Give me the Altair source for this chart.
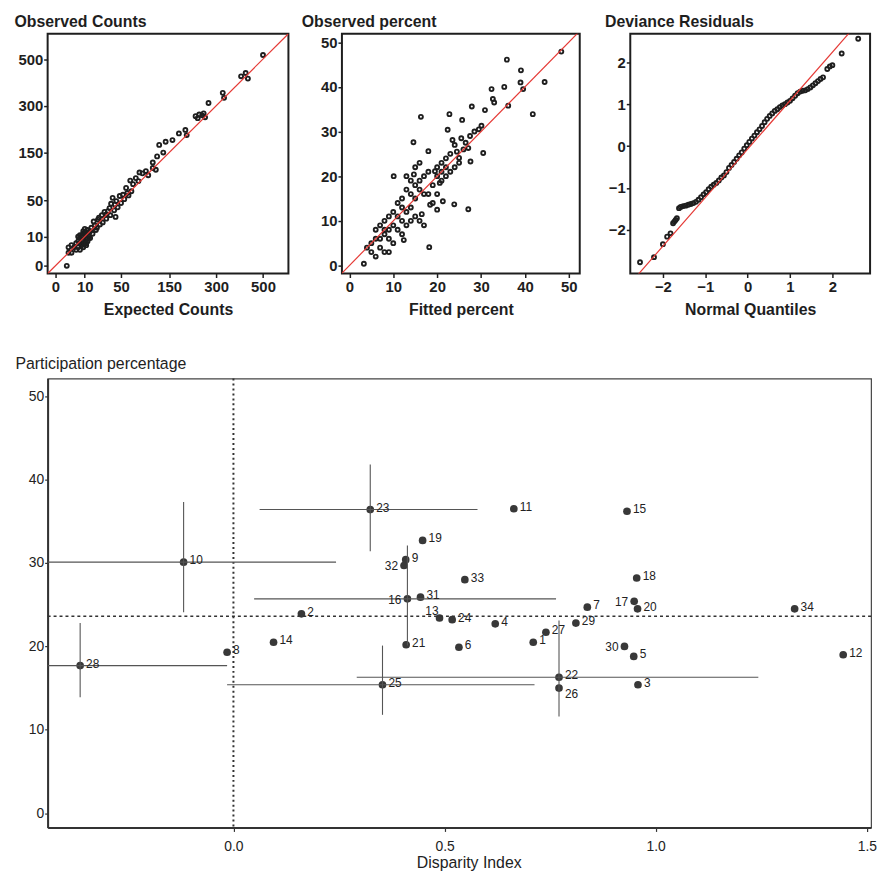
import altair as alt
import pandas as pd

FONT = "Liberation Sans"
INK = "#1e1e1e"
RED = "#e53935"

# ---------------- panel 1: observed vs expected counts (sqrt axes) ----------------
exp_counts = [500, 400, 420, 430, 325, 330, 272, 228, 240, 250,
              255, 235, 260, 196, 177, 200, 141, 159, 125, 135,
              120, 110, 88, 95, 110, 117, 82, 75, 70, 65,
              58, 53, 67, 60, 48, 41, 34, 30, 38, 43,
              42, 45, 36, 32, 28, 25, 20, 23, 14, 11,
              17, 18, 21, 15, 12, 13, 10, 9, 8, 7,
              8, 11, 9, 10, 12, 7, 6, 5, 6, 7,
              8, 9, 10, 11, 13, 14, 12, 6, 5, 4,
              3, 3, 2, 1.5, 2, 16, 19, 22, 26, 30,
              35, 40, 50, 55, 62, 80, 100, 9, 7, 11]
obs_counts = [520, 420, 435, 410, 350, 330, 310, 262, 268, 265,
              272, 255, 258, 216, 205, 200, 180, 185, 171, 150,
              140, 125, 100, 105, 112, 108, 102, 90, 78, 85,
              71, 59, 65, 62, 57, 44, 39, 31, 54, 49,
              28, 40, 45, 35, 34, 30, 17, 20, 14, 12,
              23, 19, 25, 17, 15, 10, 12, 8, 10, 6,
              5, 8, 12, 16, 9, 9, 7, 6, 4, 3,
              7, 4, 6, 5, 13, 9, 7, 10, 3, 4,
              2, 5, 2, 0, 4, 12, 15, 27, 22, 26,
              30, 36, 46, 52, 58, 84, 96, 14, 11, 6]
count_ticks = [0, 10, 50, 150, 300, 500]
count_domain = [-0.7, 630]
count_line = [-0.7, 630]

# ---------------- panel 2: observed vs fitted percent ----------------
fitted_pct = [48.3, 35.9, 39.1, 39.0, 39.6, 44.5, 35.3, 32.4, 41.8, 36.2,
              32.7, 33.0, 30.9, 27.9, 25.7, 22.8, 16.3, 22.4, 30.1, 29.5,
              28.5, 30.5, 27.1, 14.6, 18.0, 27.6, 25.0, 23.5, 24.0, 25.5,
              26.5, 26.0, 24.5, 23.0, 22.0, 21.0, 20.0, 19.5, 20.6, 21.3,
              23.9, 27.1, 18.4, 16.5, 12.4, 18.2, 3.3, 10.1, 14.7, 13.0,
              14.0, 15.0, 16.0, 17.0, 18.0, 16.0, 17.0, 19.0, 20.0, 21.0,
              22.0, 15.0, 12.0, 13.0, 14.0, 11.0, 10.0, 11.0, 12.0, 13.0,
              14.0, 15.0, 16.0, 17.0, 12.0, 9.0, 8.0, 9.0, 8.0, 7.0,
              6.0, 10.0, 11.0, 12.0, 9.0, 8.0, 7.0, 6.0, 5.0, 5.0,
              4.0, 7.0, 8.0, 10.0, 6.0, 9.0, 18.0, 19.0, 20.0, 22.0,
              23.0, 24.0, 25.0, 21.0, 20.0, 16.0, 15.0, 14.0, 13.0, 27.5]
observed_pct = [47.9, 46.1, 43.7, 41.0, 39.5, 41.1, 40.0, 39.5, 33.9, 35.8,
                37.3, 36.5, 34.8, 35.6, 32.6, 33.9, 33.3, 30.4, 31.3, 30.5,
                30.0, 25.2, 26.3, 27.6, 25.6, 23.3, 24.1, 28.1, 27.0, 28.5,
                27.5, 26.0, 25.5, 25.0, 24.0, 23.0, 22.0, 21.1, 18.5, 14.4,
                13.7, 12.6, 13.6, 11.5, 5.7, 4.1, 0.4, 20.0, 20.4, 17.0,
                16.0, 18.0, 19.0, 20.0, 21.0, 17.0, 16.0, 18.0, 20.0, 21.0,
                20.0, 15.0, 13.0, 12.0, 13.0, 14.0, 12.0, 11.0, 10.0, 9.0,
                10.0, 11.0, 10.0, 9.0, 15.0, 11.0, 10.0, 8.0, 7.0, 9.0,
                8.0, 9.0, 8.0, 7.0, 6.0, 8.0, 4.0, 6.0, 5.0, 3.0,
                4.0, 6.0, 3.0, 5.0, 2.0, 3.0, 16.0, 14.0, 16.0, 22.0,
                21.0, 22.0, 23.0, 19.0, 12.5, 23.0, 22.0, 19.0, 20.0, 29.0]
pct_ticks = [0, 10, 20, 30, 40, 50]
pct_x_domain = [-1.7, 52.5]
pct_y_domain = [-1.8, 51.9]
pct_line = [-1.8, 53]

# ---------------- panel 3: deviance residuals vs normal quantiles ----------------
normal_q = [-2.54, -2.21, -2.00, -1.90, -1.82, -1.76, -1.73, -1.70, -1.67, -1.62,
            -1.58, -1.52, -1.46, -1.40, -1.34, -1.28, -1.22, -1.16, -1.10, -1.04,
            -0.98, -0.92, -0.86, -0.80, -0.74, -0.68, -0.62, -0.56, -0.50, -0.44,
            -0.38, -0.32, -0.26, -0.20, -0.14, -0.08, -0.02, 0.04, 0.10, 0.16,
            0.22, 0.28, 0.34, 0.40, 0.46, 0.52, 0.58, 0.64, 0.70, 0.76,
            0.82, 0.88, 0.94, 1.00, 1.06, 1.12, 1.18, 1.24, 1.30, 1.36,
            1.42, 1.48, 1.54, 1.60, 1.66, 1.72, 1.78, 1.88, 1.94, 2.00,
            2.22, 2.61]
dev_resid = [-2.77, -2.65, -2.34, -2.16, -2.08, -1.84, -1.80, -1.76, -1.72, -1.48,
             -1.45, -1.43, -1.42, -1.40, -1.38, -1.36, -1.33, -1.28, -1.22, -1.15,
             -1.10, -1.03, -0.97, -0.92, -0.88, -0.82, -0.75, -0.70, -0.62, -0.52,
             -0.45, -0.38, -0.30, -0.22, -0.15, -0.06, 0.02, 0.10, 0.18, 0.25,
             0.33, 0.40, 0.48, 0.57, 0.65, 0.72, 0.78, 0.84, 0.88, 0.93,
             0.97, 1.00, 1.04, 1.08, 1.14, 1.20, 1.26, 1.30, 1.32, 1.33,
             1.36, 1.40, 1.45, 1.50, 1.55, 1.60, 1.64, 1.84, 1.90, 1.93,
             2.21, 2.56]
qq_ticks = [-2, -1, 0, 1, 2]
qq_x_domain = [-2.77, 2.89]
qq_y_domain = [-3.04, 2.68]
qq_line_x = [-2.6, 2.45]
qq_line_y = [-3.08, 2.76]

# ---------------- bottom panel: participation vs disparity ----------------
region = list(range(1, 35))
disparity = [0.710, 0.161, 0.958, 0.620, 0.948, 0.534, 0.838, -0.015, 0.408, -0.118,
             0.664, 1.444, 0.488, 0.095, 0.932, 0.412, 0.949, 0.955, 0.448, 0.957,
             0.409, 0.771, 0.324, 0.518, 0.353, 0.771, 0.740, -0.363, 0.811, 0.926,
             0.443, 0.404, 0.548, 1.329]
participation = [20.5, 23.9, 15.4, 22.7, 18.8, 19.9, 24.7, 19.3, 30.4, 30.1,
                 36.5, 19.0, 23.4, 20.5, 36.2, 25.7, 25.4, 28.2, 32.7, 24.5,
                 20.2, 16.3, 36.4, 23.2, 15.4, 15.0, 21.7, 17.7, 22.8, 20.0,
                 25.9, 29.7, 28.0, 24.5]
ci_region = [10, 23, 16, 22, 25, 28]
ci_x_low = [-0.5, 0.062, 0.049, 0.292, -0.015, -0.5]
ci_x_high = [0.243, 0.578, 0.764, 1.243, 0.713, -0.015]
ci_y_low = [24.1, 31.4, 20.1, 11.6, 11.8, 13.9]
ci_y_high = [37.3, 41.8, 32.1, 23.1, 20.1, 22.8]
ref_x = [0.0]
ref_y = [23.6]
x_ticks = [0, 0.5, 1, 1.5]
y_ticks = [0, 10, 20, 30, 40, 50]
labels_left = [32, 16, 30, 17]
labels_upleft = [13]
labels_below = [26]


def small_panel(df, xf, yf, xdom, ydom, xticks, yticks, xtitle, ytitle, ytitle_x,
                line_df, width, stype="linear"):
    sx = alt.Scale(type=stype, domain=xdom, nice=False, zero=False)
    sy = alt.Scale(type=stype, domain=ydom, nice=False, zero=False)
    common = dict(labelFont=FONT, labelFontSize=15, labelFontWeight="bold", labelColor=INK,
                  tickColor=INK, tickSize=4, tickWidth=1.5, domain=False, grid=False,
                  labelOverlap=False, titleFont=FONT, titleFontSize=16,
                  titleFontWeight="bold", titleColor=INK, titleBaseline="alphabetic")
    xaxis = alt.Axis(values=xticks, title=xtitle, titleY=41, labelPadding=2,
                     labelFlush=False, **common)
    yaxis = alt.Axis(values=yticks, title=ytitle, titleAngle=0, titleAlign="left",
                     titleX=ytitle_x, titleY=-7, labelPadding=1, **common)
    pts = alt.Chart(df).mark_point(filled=False, shape="circle", size=16,
                                   strokeWidth=1.9, color=INK, opacity=1).encode(
        x=alt.X(xf, type="quantitative", scale=sx, axis=xaxis, title=xtitle),
        y=alt.Y(yf, type="quantitative", scale=sy, axis=yaxis, title=ytitle),
    )
    ln = alt.Chart(line_df).mark_line(color=RED, strokeWidth=1.2, clip=True).encode(
        x=alt.X("lx:Q", scale=sx, axis=xaxis, title=xtitle),
        y=alt.Y("ly:Q", scale=sy, axis=yaxis, title=ytitle),
    )
    return alt.layer(pts, ln).properties(
        width=width, height=242,
        view=alt.ViewBackground(stroke=INK, strokeWidth=2, fill="white"))


p1 = small_panel(pd.DataFrame({"e": exp_counts, "o": obs_counts}), "e", "o",
                 count_domain, count_domain, count_ticks, count_ticks,
                 "Expected Counts", "Observed Counts", -34,
                 pd.DataFrame({"lx": count_line, "ly": count_line}), 243, "sqrt")
p2 = small_panel(pd.DataFrame({"f": fitted_pct, "o": observed_pct}), "f", "o",
                 pct_x_domain, pct_y_domain, pct_ticks, pct_ticks,
                 "Fitted percent", "Observed percent", -41,
                 pd.DataFrame({"lx": pct_line, "ly": pct_line}), 240)
p3 = small_panel(pd.DataFrame({"q": normal_q, "r": dev_resid}), "q", "r",
                 qq_x_domain, qq_y_domain, qq_ticks, qq_ticks,
                 "Normal Quantiles", "Deviance Residuals", -26,
                 pd.DataFrame({"lx": qq_line_x, "ly": qq_line_y}), 242)

# ---- bottom chart ----
main = pd.DataFrame({"region": region, "dis": disparity, "part": participation})
lookup = dict(zip(region, zip(disparity, participation)))
ci = pd.DataFrame({
    "region": ci_region,
    "dis": [lookup[r][0] for r in ci_region],
    "part": [lookup[r][1] for r in ci_region],
    "xlo": ci_x_low, "xhi": ci_x_high, "ylo": ci_y_low, "yhi": ci_y_high,
})

XT = "Disparity Index"
YT = "Participation percentage"
bsx = alt.Scale(domain=[-0.44, 1.51], nice=False, zero=False)
bsy = alt.Scale(domain=[-1.7, 52.1], nice=False, zero=False)
bcommon = dict(labelFont=FONT, labelFontSize=14, labelColor="#222", tickColor="#333",
               tickWidth=1.2, domainColor="#333", domainWidth=2, grid=False,
               titleFont=FONT, titleFontSize=16, titleFontWeight="normal",
               titleColor="#222", titleBaseline="alphabetic", labelOverlap=False)
bxaxis = alt.Axis(values=x_ticks, format=".1f", title=XT,
                  titleX=425, titleY=40, titleAlign="center", labelPadding=8,
                  tickSize=4, labelFlush=False, **bcommon)
byaxis = alt.Axis(values=y_ticks, title=YT,
                  titleAngle=0, titleAlign="left", titleX=-33, titleY=-10,
                  labelPadding=1, tickSize=3, **bcommon)


def bx(field):
    return alt.X(field, type="quantitative", scale=bsx, axis=bxaxis, title=XT)


def by(field):
    return alt.Y(field, type="quantitative", scale=bsy, axis=byaxis, title=YT)


vref = alt.Chart(pd.DataFrame({"v": ref_x})).mark_rule(
    color="#333", strokeWidth=2, strokeDash=[2, 3]).encode(x=bx("v"))
href = alt.Chart(pd.DataFrame({"h": ref_y})).mark_rule(
    color="#333", strokeWidth=1.5, strokeDash=[3, 3]).encode(y=by("h"))
hbar = alt.Chart(ci).mark_rule(color="#555", strokeWidth=1.1, clip=True).encode(
    x=bx("xlo"), x2="xhi:Q", y=by("part"))
vbar = alt.Chart(ci).mark_rule(color="#555", strokeWidth=1.1, clip=True).encode(
    x=bx("dis"), y=by("ylo"), y2="yhi:Q")
dots = alt.Chart(main).mark_circle(size=60, color="#383838", opacity=1).encode(
    x=bx("dis"), y=by("part"))

special = labels_left + labels_upleft + labels_below


def label_layer(ids, keep, **mk):
    pred = alt.FieldOneOfPredicate(field="region", oneOf=ids)
    base = alt.Chart(main)
    base = base.transform_filter(pred) if keep else base.transform_filter(~alt.Predicate(pred))
    return base.mark_text(font=FONT, fontSize=12, color="#222", baseline="middle", **mk).encode(
        x=bx("dis"), y=by("part"), text="region:N")


lab_r = label_layer(special, False, align="left", dx=6, dy=-2)
lab_l = label_layer(labels_left, True, align="right", dx=-6, dy=1)
lab_ul = label_layer(labels_upleft, True, align="right", dx=-1, dy=-7)
lab_b = label_layer(labels_below, True, align="left", dx=6, dy=6)

bottom = alt.layer(dots, vref, href, hbar, vbar, lab_r, lab_l, lab_ul, lab_b).properties(
    width=831, height=453,
    view=alt.ViewBackground(stroke="#444", strokeWidth=1.2, fill="white"))

top_left = alt.hconcat(p1, p2, spacing=11)
top = alt.hconcat(top_left, p3, spacing=23)
chart = alt.vconcat(top, bottom, spacing=37).properties(
    padding={"left": 5, "top": 1, "right": 0, "bottom": 0},
    background="white",
).configure(font=FONT)

chart.save("out.html", embed_options={"renderer": "svg", "actions": False})
